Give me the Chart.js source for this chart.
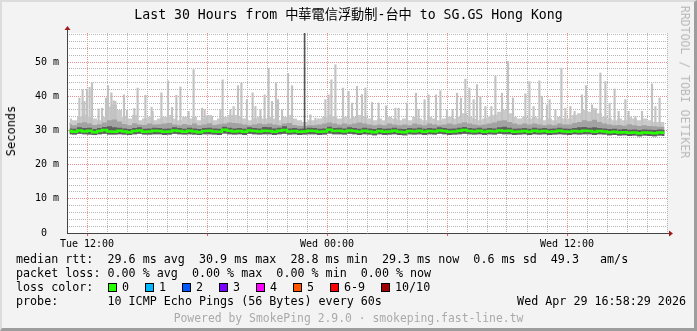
<!DOCTYPE html>
<html><head><meta charset="utf-8">
<script src="https://cdn.jsdelivr.net/npm/chart.js@4"></script>
<style>
html,body{margin:0;padding:0;}
body{width:697px;height:331px;overflow:hidden;position:relative;}
#frame{position:absolute;left:0;top:0;width:697px;height:331px;box-sizing:border-box;background:#f3f3f3;border-top:2px solid #dcdcdc;border-left:2px solid #dcdcdc;border-right:3px solid #9d9d9d;border-bottom:3px solid #9d9d9d;}
canvas{position:absolute;left:0;top:0;}
.t{position:absolute;font-family:"DejaVu Sans Mono","Noto Sans CJK TC",monospace;white-space:pre;color:#000;}
.rot{transform:translate(-50%,-50%) rotate(-90deg);}
.rot2{transform:translate(-50%,-50%) rotate(90deg);}
.box{position:absolute;width:7px;height:7px;border:1px solid #000;top:283px;}
.lg{font-size:11.7px;line-height:14px;left:16px;}
</style></head>
<body>
<div id="frame"></div>
<canvas id="c" width="697" height="331"></canvas>
<div class="t" style="left:0;width:697px;text-align:center;top:7px;font-size:13.2px;line-height:16px;">Last 30 Hours from 中華電信浮動制-台中 to SG.GS Hong Kong</div>
<div class="t rot" style="left:11px;top:131px;font-size:12px;line-height:14px;">Seconds</div>
<div class="t rot2" style="left:685px;top:82px;font-size:11.5px;line-height:14px;color:#b8b8b8;">RRDTOOL / TOBI OETIKER</div>
<div class="t lg" style="top:252px;">median rtt:  29.6 ms avg  30.9 ms max  28.8 ms min  29.3 ms now  0.6 ms sd  49.3   am/s</div>
<div class="t lg" style="top:266px;">packet loss: 0.00 % avg  0.00 % max  0.00 % min  0.00 % now</div>
<div class="t lg" style="top:280px;">loss color:</div>
<div id="losses"></div>
<div class="t lg" style="top:294px;">probe:       10 ICMP Echo Pings (56 Bytes) every 60s</div>
<div class="t lg" style="top:294px;left:auto;right:11px;">Wed Apr 29 16:58:29 2026</div>
<div class="t" style="left:0;width:697px;text-align:center;top:311px;font-size:11.4px;line-height:14px;color:#aaaaaa;">Powered by SmokePing 2.9.0 · smokeping.fast-line.tw</div>
<script>
// ---- data (hours since Tue 11:00; values in ms) ----
const lossLabels = ['0','1','2','3','4','5','6-9','10/10'];
const lossColors = ['#26ff00','#00b8ff','#0059ff','#7e00ff','#ff00ff','#ff5500','#ff0000','#a10000'];
const lossBoxX = [108,145,182,219,256,293,330,381];

const xGridHours = [0,1,2,3,4,5,6,7,8,9,10,11,12,13,14,15,16,17,18,19,20,21,22,23,24,25,26,27,28,29,30];
const xTickHours = [1, 13, 25];
const xTickLabels = ['Tue 12:00', 'Wed 00:00', 'Wed 12:00'];
const yMinorValues = [2,4,6,8,12,14,16,18,22,24,26,28,32,34,36,38,42,44,46,48,52,54,56,58];
const yTickValues = [0, 10, 20, 30, 40, 50];
const yTickLabels = ['0  ', '10 m', '20 m', '30 m', '40 m', '50 m'];

const binStep = 0.25; // 15-minute smoke bins

const median = [
29.8,29.6,30.0,29.7,29.9,29.5,29.8,30.1,29.7,29.6,
29.9,29.7,29.5,29.8,30.0,29.6,29.7,29.9,29.8,29.6,
29.7,30.0,29.8,29.6,29.9,29.7,29.5,29.8,29.9,29.7,
29.6,30.2,29.9,29.7,29.8,29.6,30.0,29.8,29.7,29.9,
29.8,29.6,29.9,30.1,29.7,29.8,29.6,29.7,29.9,29.8,
29.6,29.7,30.2,29.8,29.9,29.7,30.0,29.8,29.6,29.9,
29.7,29.5,29.8,29.6,29.7,29.9,29.6,29.5,29.8,29.7,
29.9,29.6,29.8,29.7,30.0,29.8,29.6,29.7,29.9,30.1,
29.8,29.7,29.9,29.6,29.8,29.7,30.0,29.8,29.9,29.6,
29.7,29.8,29.6,29.9,29.7,29.8,29.6,29.7,29.9,29.7,
29.6,29.8,29.7,29.9,29.8,29.6,29.8,29.7,29.5,29.6,
29.4,29.5,29.3,29.4,29.2,29.4,29.3,29.2,29.4,29.3];

const smokeLow = [
28.9,28.8,29.0,28.9,28.8,28.7,28.9,29.0,28.8,28.8,
28.9,28.8,28.7,28.9,29.0,28.8,28.8,28.9,28.9,28.7,
28.8,29.0,28.9,28.8,28.9,28.8,28.7,28.9,28.9,28.8,
28.7,29.1,28.9,28.8,28.9,28.7,29.0,28.9,28.8,28.9,
28.9,28.7,28.9,29.0,28.8,28.9,28.7,28.8,28.9,28.9,
28.7,28.8,29.1,28.9,28.9,28.8,29.0,28.9,28.7,28.9,
28.8,28.6,28.9,28.7,28.8,28.9,28.7,28.6,28.9,28.8,
28.9,28.7,28.9,28.8,29.0,28.9,28.7,28.8,28.9,29.0,
28.9,28.8,28.9,28.7,28.9,28.8,29.0,28.9,28.9,28.7,
28.8,28.9,28.7,28.9,28.8,28.9,28.7,28.8,28.9,28.8,
28.7,28.9,28.8,28.9,28.9,28.7,28.9,28.8,28.6,28.7,
28.5,28.6,28.4,28.5,28.3,28.5,28.4,28.3,28.5,28.4];

const smokeDark = [
30.6,30.5,30.9,30.7,30.8,30.4,30.7,31.0,31.2,30.9,
30.8,30.6,30.4,30.7,30.9,30.5,30.6,30.8,30.7,30.5,
30.6,30.9,30.7,30.5,30.8,30.6,30.4,30.7,30.8,30.6,
30.5,31.1,30.8,30.6,30.7,30.5,30.9,30.7,30.6,31.0,
30.9,30.6,30.8,31.2,30.6,30.7,30.5,30.6,30.8,30.7,
30.5,30.6,31.1,30.7,30.8,30.6,30.9,30.7,30.5,30.8,
30.6,30.4,30.7,30.5,30.6,30.8,30.5,30.4,30.7,30.6,
30.8,30.5,30.7,30.6,30.9,30.7,30.5,30.6,30.8,31.0,
30.7,30.6,30.8,30.5,30.7,30.6,30.9,31.1,30.8,30.5,
30.6,30.7,30.5,30.8,30.6,30.7,30.5,30.6,30.8,30.6,
30.5,30.7,30.9,31.0,30.8,30.9,30.7,30.6,30.4,30.5,
30.3,30.4,30.2,30.3,30.1,30.3,30.2,30.1,30.3,30.2];

const smokeMid = [
31.8,31.5,32.2,32.4,32.0,31.6,31.8,32.3,33.0,33.2,
32.6,31.9,31.5,32.1,31.7,31.6,32.0,31.7,31.8,32.0,
32.2,31.7,31.5,31.9,31.6,32.0,31.5,31.7,32.1,31.6,
31.8,32.0,32.3,32.2,32.0,31.7,31.5,31.7,32.0,31.8,
32.0,31.7,31.5,32.0,32.2,31.6,31.4,31.3,31.5,31.5,
31.7,32.0,32.3,32.0,31.7,32.0,31.7,32.0,32.3,32.0,
31.7,31.5,31.7,31.5,32.0,31.7,31.5,31.7,31.5,32.0,
31.7,31.5,32.0,31.7,31.5,31.7,32.0,31.7,32.0,32.4,
32.0,31.7,31.5,31.7,32.0,32.3,32.8,33.0,32.5,32.0,
31.7,32.0,31.7,32.0,31.7,31.5,31.7,31.5,32.0,31.7,
31.7,32.2,32.5,33.0,32.7,33.1,32.5,32.0,31.7,31.5,
31.6,31.4,31.8,31.5,31.3,31.5,31.3,31.2,31.1,31.1];

const smokeTop = [
33.5,33.0,34.0,34.5,34.0,33.5,33.0,34.0,37.0,37.5,
36.0,34.0,33.5,34.5,33.0,33.5,34.0,33.0,33.5,34.0,
34.5,33.5,33.0,34.0,33.5,34.0,33.0,33.5,34.5,33.0,
33.5,34.0,34.5,34.5,34.0,33.5,33.0,33.5,34.0,33.5,
34.0,33.5,33.0,34.0,34.5,33.5,33.0,32.5,33.0,33.0,
33.5,34.0,34.5,34.0,33.5,34.0,33.5,34.0,34.5,34.0,
33.5,33.0,33.5,33.0,34.0,33.5,33.0,33.5,33.0,34.0,
33.5,33.0,34.0,33.5,33.0,33.5,34.0,33.5,34.0,35.0,
34.0,33.5,33.0,33.5,34.0,34.5,35.5,36.0,35.0,34.0,
33.5,34.0,33.5,34.0,33.5,33.0,33.5,33.0,34.0,33.5,
33.5,34.5,35.0,36.0,35.5,36.5,35.0,34.0,33.5,33.0,
33.5,33.0,34.0,33.5,33.0,33.5,33.0,32.5,32.5,32.5];

const spikeHours = [
0.62,0.78,0.87,1.0,1.13,1.25,1.58,1.75,1.95,2.05,2.22,2.33,2.42,2.85,3.0,3.37,3.53,3.92,4.23,4.28,4.72,5.05,5.25,5.47,5.67,6.08,6.33,6.75,6.88,7.0,7.25,
7.67,7.78,8.17,8.33,8.55,8.72,9.0,9.28,9.42,9.67,9.88,10.08,10.25,10.45,10.55,10.75,11.05,11.25,12.17,12.42,12.92,13.08,13.22,13.42,13.8,14.08,14.25,14.5,14.75,14.92,
15.25,15.58,15.95,16.42,16.58,17.0,17.45,17.58,17.88,18.08,18.45,18.67,19.0,19.28,19.5,19.7,19.92,20.12,20.33,20.5,20.67,20.92,21.22,21.42,21.75,22.05,22.3,
22.92,23.12,23.33,23.62,23.75,24.0,24.13,24.42,24.72,24.92,25.17,25.38,25.75,25.95,26.25,26.42,26.67,26.92,27.13,27.38,27.58,27.92,28.08,28.42,28.75,29.25,29.42,29.63];
const spikeMs = [
39.5,41.9,38.5,42.1,42.6,43.9,36.3,36.5,39.5,43.1,41.0,38.7,38.5,40.4,35.9,36.4,42.4,40.3,36.8,35.6,41.0,44.5,36.8,40.3,42.7,35.6,47.8,36.5,36.1,34.3,34.1,
36.1,44.8,36.1,37.0,43.1,43.9,39.0,41.0,37.0,36.1,40.4,48.2,38.5,43.9,39.0,36.1,46.7,43.1,34.6,33.6,39.0,40.4,44.8,49.2,42.4,41.4,38.0,42.9,40.5,42.4,
38.2,38.0,37.2,36.5,36.5,38.0,40.9,36.1,39.0,40.4,40.4,41.6,36.1,36.1,40.9,39.5,45.0,42.4,39.0,43.4,40.0,37.0,37.0,45.8,40.9,50.2,39.5,
40.7,44.3,37.0,44.5,40.0,37.5,39.0,36.1,48.2,36.5,37.0,35.6,40.4,43.1,37.5,36.1,46.8,44.3,38.0,42.1,35.6,39.0,35.6,34.1,35.6,43.6,37.0,39.5];
const darkSpikeHours = [11.88];
const darkSpikeMs = [58.5];
const spikeBase = 30;

// ---- loss color legend ----
const lossDiv = document.getElementById('losses');
lossLabels.forEach((lab, i) => {
  const b = document.createElement('div');
  b.className = 'box'; b.style.left = lossBoxX[i] + 'px'; b.style.background = lossColors[i];
  lossDiv.appendChild(b);
  const t = document.createElement('div');
  t.className = 't lg'; t.style.top = '280px'; t.style.left = (lossBoxX[i] + 14) + 'px';
  t.textContent = lab;
  lossDiv.appendChild(t);
});

// ---- chart ----
const binTimes = median.map((_, i) => i * binStep + binStep / 2);
const series = arr => arr.map((v, i) => ({x: binTimes[i], y: v}));
const majorC = '#eb8f8f', minorC = '#b4b4b4';
const font = {family: 'DejaVu Sans Mono', size: 10};

const plotBg = {id: 'plotBg', beforeDraw(chart) {
  const {ctx, chartArea: a} = chart;
  ctx.save(); ctx.fillStyle = '#ffffff';
  ctx.fillRect(a.left, a.top, a.right - a.left, a.bottom - a.top); ctx.restore();
}};
const arrows = {id: 'arrows', afterDraw(chart) {
  const {ctx, chartArea: a} = chart;
  const lx = Math.round(a.left) + 0.5, by = Math.round(a.bottom) + 0.5;
  ctx.save();
  ctx.strokeStyle = '#444'; ctx.lineWidth = 1;
  ctx.beginPath();
  ctx.moveTo(lx, a.top); ctx.lineTo(lx, a.top - 4);
  ctx.moveTo(a.right, by); ctx.lineTo(a.right + 3, by);
  ctx.stroke();
  ctx.fillStyle = '#a01818';
  ctx.beginPath();
  ctx.moveTo(lx, a.top - 7); ctx.lineTo(lx - 3, a.top - 3); ctx.lineTo(lx + 3, a.top - 3); ctx.closePath(); ctx.fill();
  ctx.beginPath();
  ctx.moveTo(a.right + 6, by); ctx.lineTo(a.right + 2, by - 3); ctx.lineTo(a.right + 2, by + 3); ctx.closePath(); ctx.fill();
  ctx.restore();
}};

new Chart(document.getElementById('c'), {
  type: 'line',
  data: {
    datasets: [
      {label: 'low', data: series(smokeLow), borderWidth: 0, pointRadius: 0, stepped: 'middle', fill: false, order: 9},
      {label: 'top', data: series(smokeTop), borderWidth: 0, pointRadius: 0, stepped: 'middle', fill: 0, backgroundColor: '#cacaca', order: 8},
      {type: 'bar', label: 'spikes', data: spikeHours.map((h, i) => ({x: h, y: [spikeBase, spikeMs[i]]})),
        backgroundColor: '#c2c2c2', barThickness: 1.5, grouped: false, borderWidth: 0, order: 7},
      {label: 'mid', data: series(smokeMid), borderWidth: 0, pointRadius: 0, stepped: 'middle', fill: 0, backgroundColor: '#a2a2a2', order: 6},
      {label: 'dark', data: series(smokeDark), borderWidth: 0, pointRadius: 0, stepped: 'middle', fill: 0, backgroundColor: '#5e5e5e', order: 5},
      {type: 'bar', label: 'darkSpike', data: darkSpikeHours.map((h, i) => ({x: h, y: [spikeBase, darkSpikeMs[i]]})),
        backgroundColor: '#555555', barThickness: 1, grouped: false, borderWidth: 0, order: 4},
      {label: 'median', data: series(median), borderColor: '#26ff00', borderWidth: 2.5, pointRadius: 0, stepped: 'middle', fill: false, order: 1}
    ]
  },
  options: {
    responsive: false, animation: false, events: [],
    layout: {padding: {left: 0, right: 30, top: 33, bottom: 78}},
    plugins: {legend: {display: false}, tooltip: {enabled: false}, title: {display: false}},
    scales: {
      x: {
        type: 'linear', min: 0, max: 30, offset: false,
        ticks: {autoSkip: false, maxRotation: 0, minRotation: 0, font, color: '#000', padding: 2,
          callback: v => { const k = xTickHours.indexOf(v); return k >= 0 ? xTickLabels[k] : ''; }},
        afterBuildTicks: a => { a.ticks = xGridHours.map(v => ({value: v})); },
        grid: {offset: false, lineWidth: 1, tickLength: 3,
          color: c => (c.tick && (c.tick.value - 1) % 6 === 0) ? majorC : minorC,
          tickColor: c => (c.tick && (c.tick.value - 1) % 6 === 0) ? '#e06060' : 'rgba(0,0,0,0)'},
        border: {color: '#444', width: 1, dash: [1, 1]},
        afterFit: a => { a.height = 20; }
      },
      yMinor: {
        type: 'linear', position: 'left', min: 0, max: 58.5, weight: 0,
        ticks: {display: false, autoSkip: false},
        afterBuildTicks: a => { a.ticks = yMinorValues.map(v => ({value: v})); },
        grid: {drawTicks: false, lineWidth: 1, color: minorC},
        border: {display: false, dash: [1, 1]},
        afterFit: a => { a.width = 0; }
      },
      y: {
        type: 'linear', position: 'left', min: 0, max: 58.5, weight: 1,
        ticks: {autoSkip: false, font, color: '#000', padding: 8,
          callback: v => { const k = yTickValues.indexOf(v); return k >= 0 ? yTickLabels[k] : ''; }},
        afterBuildTicks: a => { a.ticks = yTickValues.map(v => ({value: v})); },
        grid: {drawTicks: false, lineWidth: 1, color: majorC},
        border: {color: '#444', width: 1, dash: [1, 1]},
        afterFit: a => { a.width = 67; }
      }
    }
  },
  plugins: [plotBg, arrows]
});
</script>
</body></html>
